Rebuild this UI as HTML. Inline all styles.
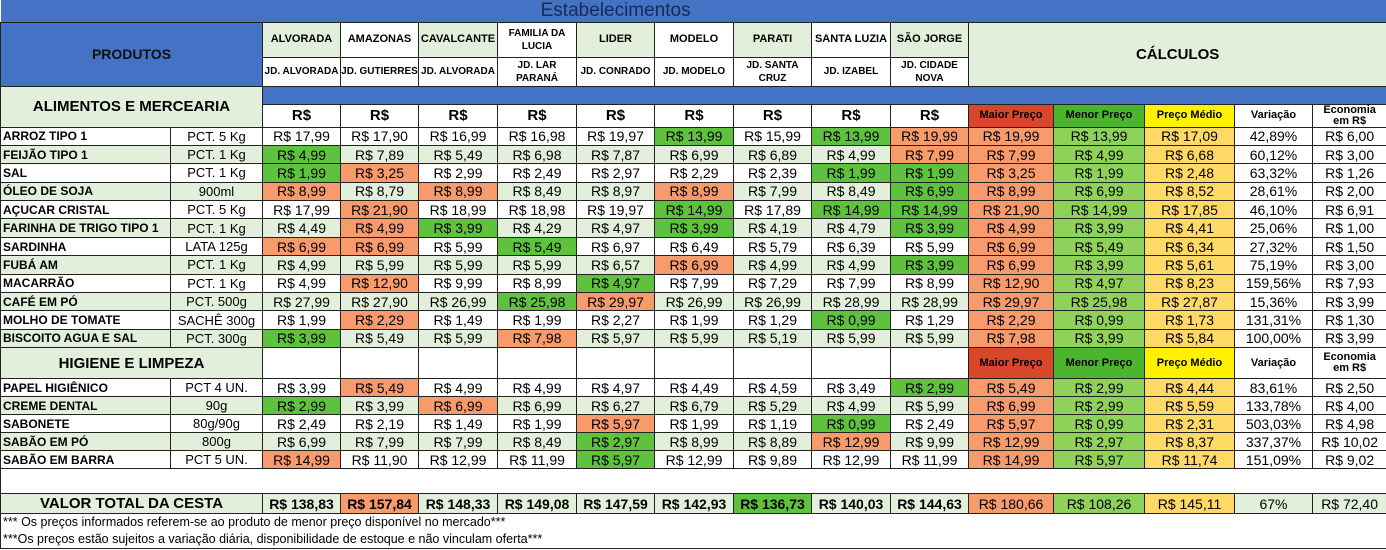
<!DOCTYPE html>
<html><head><meta charset="utf-8"><style>
body{margin:0;width:1386px;height:550px;overflow:hidden;background:#fff;font-family:"Liberation Sans",Arial,sans-serif}
table{border-collapse:collapse;table-layout:fixed;width:1386px}
td{border:1px solid #222;padding:0;text-align:center;font-size:14px;white-space:nowrap;overflow:hidden;line-height:1}
.b{background:#4472C4}
.lg{background:#E2EFDA}
.h{font-weight:bold;font-size:11px}
.h2{font-weight:bold;font-size:10px;line-height:1.3}
.n{text-align:left;font-weight:bold;font-size:12px;padding-left:2px}
.u{font-size:13px}
.o{background:#F79A6C}
.g{background:#5EC23E}
.mx{background:#F79A6C}
.mn{background:#8FD25A}
.md{background:#FFD966}
.cat{font-weight:bold;font-size:15px;background:#E2EFDA}
.rs{font-weight:bold;font-size:15px}
tr.d td{height:17.4px}
tr.e td{height:17px}
tr.a td.z{background:#E2EFDA}
.tot td{font-weight:bold;font-size:14px;background:#E2EFDA;height:19px}
.foot td{text-align:left;font-size:12.5px;border-left:1px solid #222;border-right:1px solid #222;border-top:none;border-bottom:none;padding-left:2px;height:17px}
</style></head><body>
<table>
<colgroup><col style="width:170px"><col style="width:92px"><col style="width:78px"><col style="width:78px"><col style="width:79px"><col style="width:79px"><col style="width:78px"><col style="width:79px"><col style="width:78px"><col style="width:79px"><col style="width:78px"><col style="width:85px"><col style="width:91px"><col style="width:90px"><col style="width:78px"><col style="width:74px"></colgroup>
<tr style="height:22px"><td colspan="16" class="b" style="font-size:19px;color:#1a2a55;border:none;padding-right:156px">Estabelecimentos</td></tr>
<tr style="height:35px"><td colspan="2" rowspan="2" class="b" style="font-weight:bold;font-size:14px;color:#111">PRODUTOS</td>
<td class="h lg">ALVORADA</td><td class="h">AMAZONAS</td><td class="h lg">CAVALCANTE</td><td class="h2">FAMILIA DA<br>LUCIA</td><td class="h lg">LIDER</td><td class="h">MODELO</td><td class="h lg">PARATI</td><td class="h">SANTA LUZIA</td><td class="h lg">SÃO JORGE</td>
<td colspan="5" rowspan="2" class="lg" style="font-weight:bold;font-size:15px">CÁLCULOS</td></tr>
<tr style="height:29px"><td class="h2">JD. ALVORADA</td><td class="h2">JD. GUTIERRES</td><td class="h2">JD. ALVORADA</td><td class="h2">JD. LAR<br>PARANÁ</td><td class="h2">JD. CONRADO</td><td class="h2">JD. MODELO</td><td class="h2">JD. SANTA<br>CRUZ</td><td class="h2">JD. IZABEL</td><td class="h2">JD. CIDADE<br>NOVA</td></tr>
<tr style="height:18px"><td colspan="2" rowspan="2" class="cat">ALIMENTOS E MERCEARIA</td><td colspan="14" class="b"></td></tr>
<tr style="height:23px"><td class="rs">R$</td><td class="rs">R$</td><td class="rs">R$</td><td class="rs">R$</td><td class="rs">R$</td><td class="rs">R$</td><td class="rs">R$</td><td class="rs">R$</td><td class="rs">R$</td><td class="h" style="background:#D9472B">Maior Preço</td><td class="h" style="background:#4CB52E">Menor Preço</td><td class="h" style="background:#FFF200">Preço Médio</td><td class="h">Variação</td><td class="h">Economia<br>em R$</td></tr>
<tr class="d"><td class="n">ARROZ TIPO 1</td><td class="u">PCT. 5 Kg</td><td>R$ 17,99</td><td>R$ 17,90</td><td>R$ 16,99</td><td>R$ 16,98</td><td>R$ 19,97</td><td class="g">R$ 13,99</td><td>R$ 15,99</td><td class="g">R$ 13,99</td><td class="o">R$ 19,99</td><td class="mx">R$ 19,99</td><td class="mn">R$ 13,99</td><td class="md">R$ 17,09</td><td>42,89%</td><td>R$ 6,00</td></tr>
<tr class="d a"><td class="n z">FEIJÃO TIPO 1</td><td class="u z">PCT. 1 Kg</td><td class="g">R$ 4,99</td><td class="z">R$ 7,89</td><td class="z">R$ 5,49</td><td class="z">R$ 6,98</td><td class="z">R$ 7,87</td><td class="z">R$ 6,99</td><td class="z">R$ 6,89</td><td class="z">R$ 4,99</td><td class="o">R$ 7,99</td><td class="mx">R$ 7,99</td><td class="mn">R$ 4,99</td><td class="md">R$ 6,68</td><td>60,12%</td><td>R$ 3,00</td></tr>
<tr class="d"><td class="n">SAL</td><td class="u">PCT. 1 Kg</td><td class="g">R$ 1,99</td><td class="o">R$ 3,25</td><td>R$ 2,99</td><td>R$ 2,49</td><td>R$ 2,97</td><td>R$ 2,29</td><td>R$ 2,39</td><td class="g">R$ 1,99</td><td class="g">R$ 1,99</td><td class="mx">R$ 3,25</td><td class="mn">R$ 1,99</td><td class="md">R$ 2,48</td><td>63,32%</td><td>R$ 1,26</td></tr>
<tr class="d a"><td class="n z">ÓLEO DE SOJA</td><td class="u z">900ml</td><td class="o">R$ 8,99</td><td class="z">R$ 8,79</td><td class="o">R$ 8,99</td><td class="z">R$ 8,49</td><td class="z">R$ 8,97</td><td class="o">R$ 8,99</td><td class="z">R$ 7,99</td><td class="z">R$ 8,49</td><td class="g">R$ 6,99</td><td class="mx">R$ 8,99</td><td class="mn">R$ 6,99</td><td class="md">R$ 8,52</td><td>28,61%</td><td>R$ 2,00</td></tr>
<tr class="d"><td class="n">AÇUCAR CRISTAL</td><td class="u">PCT. 5 Kg</td><td>R$ 17,99</td><td class="o">R$ 21,90</td><td>R$ 18,99</td><td>R$ 18,98</td><td>R$ 19,97</td><td class="g">R$ 14,99</td><td>R$ 17,89</td><td class="g">R$ 14,99</td><td class="g">R$ 14,99</td><td class="mx">R$ 21,90</td><td class="mn">R$ 14,99</td><td class="md">R$ 17,85</td><td>46,10%</td><td>R$ 6,91</td></tr>
<tr class="d a"><td class="n z">FARINHA DE TRIGO TIPO 1</td><td class="u z">PCT. 1 Kg</td><td class="z">R$ 4,49</td><td class="o">R$ 4,99</td><td class="g">R$ 3,99</td><td class="z">R$ 4,29</td><td class="z">R$ 4,97</td><td class="g">R$ 3,99</td><td class="z">R$ 4,19</td><td class="z">R$ 4,79</td><td class="g">R$ 3,99</td><td class="mx">R$ 4,99</td><td class="mn">R$ 3,99</td><td class="md">R$ 4,41</td><td>25,06%</td><td>R$ 1,00</td></tr>
<tr class="d"><td class="n">SARDINHA</td><td class="u">LATA 125g</td><td class="o">R$ 6,99</td><td class="o">R$ 6,99</td><td>R$ 5,99</td><td class="g">R$ 5,49</td><td>R$ 6,97</td><td>R$ 6,49</td><td>R$ 5,79</td><td>R$ 6,39</td><td>R$ 5,99</td><td class="mx">R$ 6,99</td><td class="mn">R$ 5,49</td><td class="md">R$ 6,34</td><td>27,32%</td><td>R$ 1,50</td></tr>
<tr class="d a"><td class="n z">FUBÁ AM</td><td class="u z">PCT. 1 Kg</td><td class="z">R$ 4,99</td><td class="z">R$ 5,99</td><td class="z">R$ 5,99</td><td class="z">R$ 5,99</td><td class="z">R$ 6,57</td><td class="o">R$ 6,99</td><td class="z">R$ 4,99</td><td class="z">R$ 4,99</td><td class="g">R$ 3,99</td><td class="mx">R$ 6,99</td><td class="mn">R$ 3,99</td><td class="md">R$ 5,61</td><td>75,19%</td><td>R$ 3,00</td></tr>
<tr class="d"><td class="n">MACARRÃO</td><td class="u">PCT. 1 Kg</td><td>R$ 4,99</td><td class="o">R$ 12,90</td><td>R$ 9,99</td><td>R$ 8,99</td><td class="g">R$ 4,97</td><td>R$ 7,99</td><td>R$ 7,29</td><td>R$ 7,99</td><td>R$ 8,99</td><td class="mx">R$ 12,90</td><td class="mn">R$ 4,97</td><td class="md">R$ 8,23</td><td>159,56%</td><td>R$ 7,93</td></tr>
<tr class="d a"><td class="n z">CAFÉ EM PÓ</td><td class="u z">PCT. 500g</td><td class="z">R$ 27,99</td><td class="z">R$ 27,90</td><td class="z">R$ 26,99</td><td class="g">R$ 25,98</td><td class="o">R$ 29,97</td><td class="z">R$ 26,99</td><td class="z">R$ 26,99</td><td class="z">R$ 28,99</td><td class="z">R$ 28,99</td><td class="mx">R$ 29,97</td><td class="mn">R$ 25,98</td><td class="md">R$ 27,87</td><td>15,36%</td><td>R$ 3,99</td></tr>
<tr class="d"><td class="n">MOLHO DE TOMATE</td><td class="u">SACHÊ 300g</td><td>R$ 1,99</td><td class="o">R$ 2,29</td><td>R$ 1,49</td><td>R$ 1,99</td><td>R$ 2,27</td><td>R$ 1,99</td><td>R$ 1,29</td><td class="g">R$ 0,99</td><td>R$ 1,29</td><td class="mx">R$ 2,29</td><td class="mn">R$ 0,99</td><td class="md">R$ 1,73</td><td>131,31%</td><td>R$ 1,30</td></tr>
<tr class="d a"><td class="n z">BISCOITO AGUA E SAL</td><td class="u z">PCT. 300g</td><td class="g">R$ 3,99</td><td class="z">R$ 5,49</td><td class="z">R$ 5,99</td><td class="o">R$ 7,98</td><td class="z">R$ 5,97</td><td class="z">R$ 5,99</td><td class="z">R$ 5,19</td><td class="z">R$ 5,99</td><td class="z">R$ 5,99</td><td class="mx">R$ 7,98</td><td class="mn">R$ 3,99</td><td class="md">R$ 5,84</td><td>100,00%</td><td>R$ 3,99</td></tr>
<tr><td colspan="2" class="cat" style="height:30px">HIGIENE E LIMPEZA</td><td></td><td></td><td></td><td></td><td></td><td></td><td></td><td></td><td></td><td class="h" style="background:#D9472B">Maior Preço</td><td class="h" style="background:#4CB52E">Menor Preço</td><td class="h" style="background:#FFF200">Preço Médio</td><td class="h">Variação</td><td class="h">Economia<br>em R$</td></tr>
<tr class="e"><td class="n">PAPEL HIGIÊNICO</td><td class="u">PCT 4 UN.</td><td>R$ 3,99</td><td class="o">R$ 5,49</td><td>R$ 4,99</td><td>R$ 4,99</td><td>R$ 4,97</td><td>R$ 4,49</td><td>R$ 4,59</td><td>R$ 3,49</td><td class="g">R$ 2,99</td><td class="mx">R$ 5,49</td><td class="mn">R$ 2,99</td><td class="md">R$ 4,44</td><td>83,61%</td><td>R$ 2,50</td></tr>
<tr class="e a"><td class="n z">CREME DENTAL</td><td class="u z">90g</td><td class="g">R$ 2,99</td><td class="z">R$ 3,99</td><td class="o">R$ 6,99</td><td class="z">R$ 6,99</td><td class="z">R$ 6,27</td><td class="z">R$ 6,79</td><td class="z">R$ 5,29</td><td class="z">R$ 4,99</td><td class="z">R$ 5,99</td><td class="mx">R$ 6,99</td><td class="mn">R$ 2,99</td><td class="md">R$ 5,59</td><td>133,78%</td><td>R$ 4,00</td></tr>
<tr class="e"><td class="n">SABONETE</td><td class="u">80g/90g</td><td>R$ 2,49</td><td>R$ 2,19</td><td>R$ 1,49</td><td>R$ 1,99</td><td class="o">R$ 5,97</td><td>R$ 1,99</td><td>R$ 1,19</td><td class="g">R$ 0,99</td><td>R$ 2,49</td><td class="mx">R$ 5,97</td><td class="mn">R$ 0,99</td><td class="md">R$ 2,31</td><td>503,03%</td><td>R$ 4,98</td></tr>
<tr class="e a"><td class="n z">SABÃO EM PÓ</td><td class="u z">800g</td><td class="z">R$ 6,99</td><td class="z">R$ 7,99</td><td class="z">R$ 7,99</td><td class="z">R$ 8,49</td><td class="g">R$ 2,97</td><td class="z">R$ 8,99</td><td class="z">R$ 8,89</td><td class="o">R$ 12,99</td><td class="z">R$ 9,99</td><td class="mx">R$ 12,99</td><td class="mn">R$ 2,97</td><td class="md">R$ 8,37</td><td>337,37%</td><td>R$ 10,02</td></tr>
<tr class="e"><td class="n">SABÃO EM BARRA</td><td class="u">PCT 5 UN.</td><td class="o">R$ 14,99</td><td>R$ 11,90</td><td>R$ 12,99</td><td>R$ 11,99</td><td class="g">R$ 5,97</td><td>R$ 12,99</td><td>R$ 9,89</td><td>R$ 12,99</td><td>R$ 11,99</td><td class="mx">R$ 14,99</td><td class="mn">R$ 5,97</td><td class="md">R$ 11,74</td><td>151,09%</td><td>R$ 9,02</td></tr>
<tr><td colspan="16" style="border-top:1px solid #222;height:24px"></td></tr>
<tr class="tot"><td colspan="2" style="font-size:15px">VALOR TOTAL DA CESTA</td><td>R$ 138,83</td><td style="background:#F79A6C">R$ 157,84</td><td>R$ 148,33</td><td>R$ 149,08</td><td>R$ 147,59</td><td>R$ 142,93</td><td style="background:#5EC23E">R$ 136,73</td><td>R$ 140,03</td><td>R$ 144,63</td><td style="background:#F79A6C;font-weight:normal">R$ 180,66</td><td style="background:#8FD25A;font-weight:normal">R$ 108,26</td><td style="background:#FFD966;font-weight:normal">R$ 145,11</td><td style="font-weight:normal">67%</td><td style="font-weight:normal">R$ 72,40</td></tr>
<tr class="foot"><td colspan="16">*** Os preços informados referem-se ao produto de menor preço disponível no mercado***</td></tr>
<tr class="foot"><td colspan="16" style="border-bottom:1px solid #222">***Os preços estão sujeitos a variação diária, disponibilidade de estoque e não vinculam oferta***</td></tr>
</table>
</body></html>
